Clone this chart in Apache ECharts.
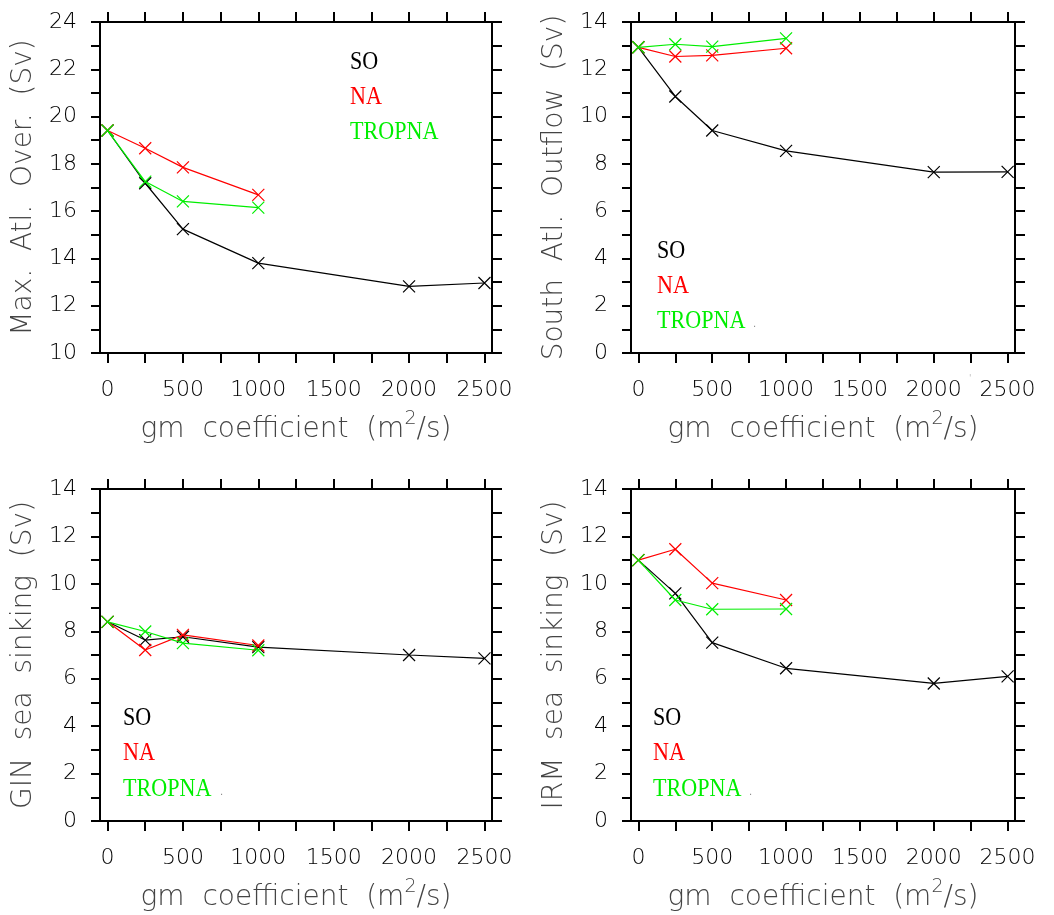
<!DOCTYPE html>
<html>
<head>
<meta charset="utf-8">
<script src="https://cdn.jsdelivr.net/npm/echarts@6/dist/echarts.min.js"></script>
<style>
html,body{margin:0;padding:0;background:#fff;}
#chart{width:1054px;height:915px;}
</style>
</head>
<body>
<div id="chart"></div>
<script>
// ---- data ----
const gmAll = [0, 250, 500, 1000, 2000, 2500];
const gmShort = [0, 250, 500, 1000];
const xTickValues = [0, 250, 500, 750, 1000, 1250, 1500, 1750, 2000, 2250, 2500];
const xLabelValues = [0, 500, 1000, 1500, 2000, 2500];

const maxAtlSO = [19.41, 17.18, 15.24, 13.80, 12.82, 12.96];
const maxAtlNA = [19.41, 18.66, 17.85, 16.69];
const maxAtlTROPNA = [19.41, 17.25, 16.41, 16.15];

const southAtlSO = [12.93, 10.85, 9.41, 8.55, 7.65, 7.66];
const southAtlNA = [12.93, 12.54, 12.59, 12.89];
const southAtlTROPNA = [12.93, 13.06, 12.96, 13.31];

const ginSO = [8.40, 7.63, 7.77, 7.33, 7.00, 6.86];
const ginNA = [8.40, 7.21, 7.85, 7.40];
const ginTROPNA = [8.40, 7.99, 7.50, 7.20];

const irmSO = [11.00, 9.60, 7.52, 6.44, 5.80, 6.10];
const irmNA = [11.00, 11.46, 10.03, 9.32];
const irmTROPNA = [11.00, 9.32, 8.93, 8.94];

const yTicks1 = [10, 11, 12, 13, 14, 15, 16, 17, 18, 19, 20, 21, 22, 23, 24];
const yLabels1 = [10, 12, 14, 16, 18, 20, 22, 24];
const yTicks0 = [0, 1, 2, 3, 4, 5, 6, 7, 8, 9, 10, 11, 12, 13, 14];
const yLabels0 = [0, 2, 4, 6, 8, 10, 12, 14];

const legendNames = ['SO', 'NA', 'TROPNA'];
const yTitles = ['Max.  Atl.  Over.  (Sv)', 'South  Atl.  Outflow  (Sv)', 'GIN  sea  sinking  (Sv)', 'IRM  sea  sinking  (Sv)'];
const xTitle = '{a|gm  coefficient  (m}{s|2}{a|/s)}';

// ---- styling ----
const colors = ['#000000', '#ff0000', '#00ee00'];
const SANS = 'DejaVu Sans';
const SERIF = 'Liberation Serif';
const grids = [
  {left: 100, top: 22, width: 392, height: 331},
  {left: 631, top: 22, width: 384, height: 331},
  {left: 100, top: 489, width: 392, height: 332},
  {left: 631, top: 489, width: 384, height: 332}
];
const panels = [
  {yMin: 10, yMax: 24, ticks: yTicks1, labels: yLabels1, data: [maxAtlSO, maxAtlNA, maxAtlTROPNA]},
  {yMin: 0, yMax: 14, ticks: yTicks0, labels: yLabels0, data: [southAtlSO, southAtlNA, southAtlTROPNA]},
  {yMin: 0, yMax: 14, ticks: yTicks0, labels: yLabels0, data: [ginSO, ginNA, ginTROPNA]},
  {yMin: 0, yMax: 14, ticks: yTicks0, labels: yLabels0, data: [irmSO, irmNA, irmTROPNA]}
];
const legendPos = [
  {x: 350, y: [62.5, 97.5, 132.5], dot: null},
  {x: 657, y: [251, 286, 321], dot: [753, 329]},
  {x: 123, y: [718, 753, 789], dot: [220, 797]},
  {x: 653, y: [718, 753, 789], dot: [749, 797]}
];

const axisLine = {show: true, onZero: false, lineStyle: {color: '#000', width: 2}};
const tickStyle = {color: '#000', width: 2};
const labelStyle = {fontSize: 22, fontFamily: SANS, fontWeight: 200, color: '#000', formatter: v => String(v)};
const titleColor = '#444';

const xAxes = [], yAxes = [], series = [], graphics = [];
panels.forEach((p, i) => {
  xAxes.push({
    gridIndex: i, type: 'value', min: -50, max: 2550, position: 'bottom',
    axisLine: axisLine,
    axisTick: {show: true, inside: false, length: 10, lineStyle: tickStyle, customValues: xTickValues},
    axisLabel: Object.assign({show: true, margin: 26, customValues: xLabelValues}, labelStyle),
    splitLine: {show: false},
    name: xTitle, nameLocation: 'middle', nameGap: 57,
    nameTextStyle: {
      rich: {
        a: {fontSize: 28, fontFamily: SANS, fontWeight: 200, color: titleColor, lineHeight: 40},
        s: {fontSize: 19, fontFamily: SANS, fontWeight: 200, color: titleColor, lineHeight: 14, verticalAlign: 'top'}
      }
    }
  });
  xAxes.push({
    gridIndex: i, type: 'value', min: -50, max: 2550, position: 'top',
    axisLine: axisLine,
    axisTick: {show: true, inside: false, length: 10, lineStyle: tickStyle, customValues: xTickValues},
    axisLabel: {show: false}, splitLine: {show: false}
  });
  yAxes.push({
    gridIndex: i, type: 'value', min: p.yMin, max: p.yMax, position: 'left',
    axisLine: axisLine,
    axisTick: {show: true, inside: false, length: 9, lineStyle: tickStyle, customValues: p.ticks},
    axisLabel: Object.assign({show: true, margin: 23, customValues: p.labels}, labelStyle),
    splitLine: {show: false},
    name: yTitles[i], nameLocation: 'middle', nameGap: 62,
    nameTextStyle: {fontSize: 28, fontFamily: SANS, fontWeight: 200, color: titleColor, lineHeight: 28}
  });
  yAxes.push({
    gridIndex: i, type: 'value', min: p.yMin, max: p.yMax, position: 'right',
    axisLine: axisLine,
    axisTick: {show: true, inside: false, length: 10, lineStyle: tickStyle, customValues: p.ticks},
    axisLabel: {show: false}, splitLine: {show: false}
  });
  p.data.forEach((vals, k) => {
    const xs = vals.length === gmAll.length ? gmAll : gmShort;
    series.push({
      type: 'line', name: legendNames[k],
      xAxisIndex: i * 2, yAxisIndex: i * 2,
      data: vals.map((v, j) => [xs[j], v]),
      symbol: 'path://M0,0L10,10M10,0L0,10', symbolSize: 12,
      lineStyle: {color: colors[k], width: 1.2},
      itemStyle: {color: colors[k], borderColor: colors[k], borderWidth: 1.2},
      z: 3 + k, animation: false, silent: true
    });
  });
  const lp = legendPos[i];
  legendNames.forEach((n, k) => {
    graphics.push({
      type: 'text', x: lp.x, y: lp.y[k], scaleX: 0.85,
      style: {text: n, fill: colors[k], font: '26px "' + SERIF + '"', textAlign: 'left', verticalAlign: 'middle'}
    });
  });
  if (lp.dot) {
    graphics.push({
      type: 'text', x: lp.dot[0], y: lp.dot[1],
      style: {text: '.', fill: '#888', font: '10px "' + SANS + '"', textAlign: 'left', verticalAlign: 'bottom'}
    });
  }
});
graphics.push({
  type: 'text', x: 969, y: 374,
  style: {text: "'", fill: '#bbb', font: '9px "' + SANS + '"', textAlign: 'left', verticalAlign: 'top'}
});

const chart = echarts.init(document.getElementById('chart'), null, {renderer: 'canvas'});
chart.setOption({
  backgroundColor: '#fff',
  animation: false,
  grid: grids.map(g => Object.assign({containLabel: false, outerBoundsMode: 'none', show: false}, g)),
  xAxis: xAxes,
  yAxis: yAxes,
  series: series,
  graphic: graphics
});
</script>
</body>
</html>
